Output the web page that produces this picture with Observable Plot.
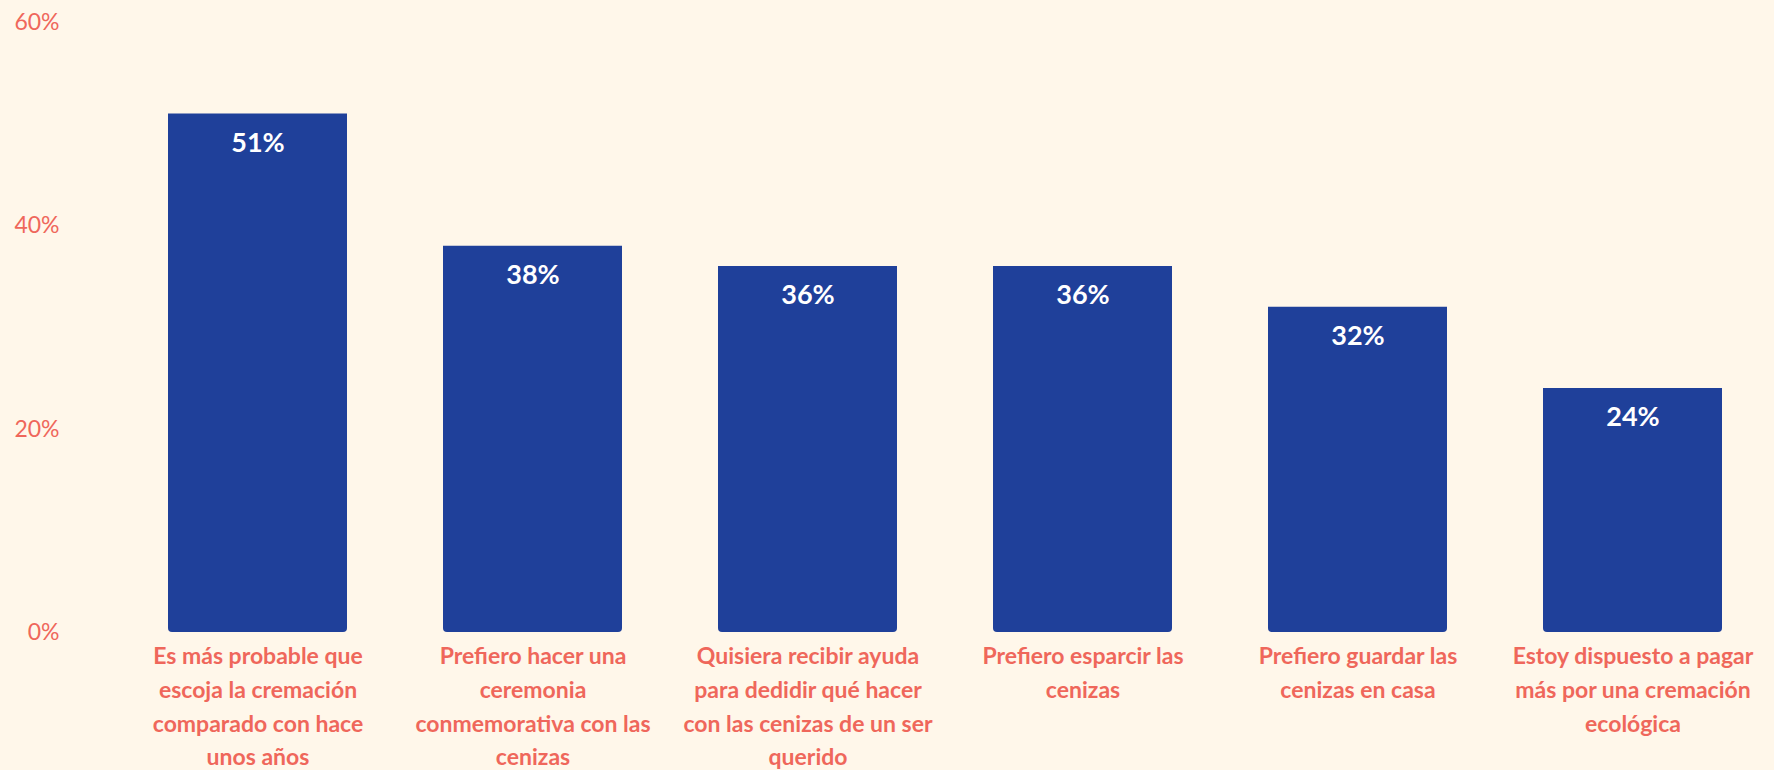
<!DOCTYPE html>
<html>
<head>
<meta charset="utf-8">
<script src="https://cdn.jsdelivr.net/npm/d3@7"></script>
<script src="https://cdn.jsdelivr.net/npm/@observablehq/plot@0.6"></script>
<style>
  html, body { margin: 0; padding: 0; background: #FFF7EA; }
  #chart { width: 1774px; height: 770px; }
</style>
</head>
<body>
<div id="chart"></div>
<script>
const categories = [
  "Es más probable que\nescoja la cremación\ncomparado con hace\nunos años",
  "Prefiero hacer una\nceremonia\nconmemorativa con las\ncenizas",
  "Quisiera recibir ayuda\npara dedidir qué hacer\ncon las cenizas de un ser\nquerido",
  "Prefiero esparcir las\ncenizas",
  "Prefiero guardar las\ncenizas en casa",
  "Estoy dispuesto a pagar\nmás por una cremación\necológica"
];
const values = [51, 38, 36, 36, 32, 24];
const yTicks = [0, 20, 40, 60];

const data = categories.map((c, i) => ({category: c, value: values[i]}));

const FONT = "Lato, 'Open Sans', sans-serif";
const SALMON = "#EF675B";
const BLUE = "#1F409A";

const chart = Plot.plot({
  width: 1774,
  height: 770,
  marginTop: 22,
  marginBottom: 138,
  marginLeft: 126,
  marginRight: 11,
  style: {background: "#FFF7EA", fontFamily: FONT},
  x: {domain: categories, paddingInner: 0.35, paddingOuter: 0.15, label: null},
  y: {domain: [0, 60], label: null},
  marks: [
    Plot.barY(data, {x: "category", y: "value", fill: BLUE, rx1y2: 4, rx2y2: 4}),
    Plot.text(data, {
      x: "category", y: "value", text: d => d.value + "%",
      dy: 29, fill: "white", fontWeight: "bold", fontSize: 27, fontFamily: FONT
    }),
    Plot.axisY({
      ticks: yTicks, tickFormat: d => d + "%", tickSize: 0, tickPadding: 67,
      fontSize: 23, fill: SALMON, label: null, fontFamily: FONT
    }),
    Plot.axisX({
      tickSize: 0, tickPadding: 8, fontSize: 23, fontWeight: "bold",
      fill: SALMON, lineHeight: 1.46, label: null, fontFamily: FONT
    })
  ]
});
document.getElementById("chart").appendChild(chart);
</script>
</body>
</html>
